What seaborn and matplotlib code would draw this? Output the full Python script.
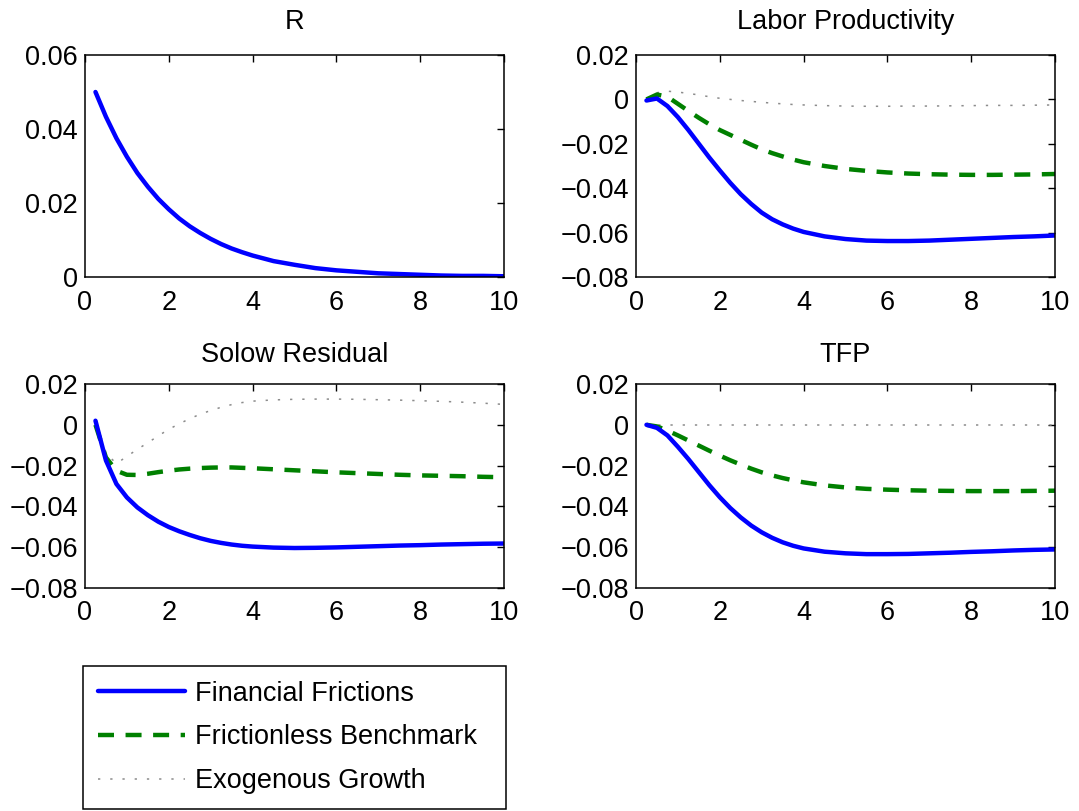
import numpy as np
import pandas as pd
import matplotlib
matplotlib.use("Agg")
import matplotlib.pyplot as plt
import seaborn as sns
from matplotlib.lines import Line2D

# ---------------- data ----------------
x = [0.25, 0.5, 0.75, 1.0, 1.25, 1.5, 1.75, 2.0, 2.25, 2.5, 2.75, 3.0, 3.25, 3.5, 3.75, 4.0,
     4.5, 5.0, 5.5, 6.0, 6.5, 7.0, 7.5, 8.0, 8.5, 9.0, 9.5, 10.0]

r_fin = [0.0500, 0.0433, 0.0375, 0.0325, 0.0281, 0.0244, 0.0211, 0.0183, 0.0158, 0.0137,
         0.0119, 0.0103, 0.0089, 0.0077, 0.0067, 0.0058, 0.0043, 0.0033, 0.0024, 0.0018,
         0.0014, 0.0010, 0.0008, 0.0006, 0.0004, 0.0003, 0.0003, 0.0002]

lp_fin = [-0.0005, 0.0004, -0.0030, -0.0080, -0.0138, -0.0200, -0.0262, -0.0320, -0.0376, -0.0427,
          -0.0471, -0.0510, -0.0540, -0.0563, -0.0582, -0.0597, -0.0617, -0.0629, -0.0636, -0.0638,
          -0.0638, -0.0636, -0.0632, -0.0628, -0.0624, -0.0620, -0.0617, -0.0613]
lp_fl = [0.0000, 0.0022, 0.0012, -0.0020, -0.0052, -0.0083, -0.0112, -0.0138, -0.0160, -0.0182,
         -0.0204, -0.0225, -0.0242, -0.0257, -0.0271, -0.0283, -0.0300, -0.0313, -0.0322, -0.0329,
         -0.0334, -0.0337, -0.0339, -0.0340, -0.0340, -0.0339, -0.0338, -0.0336]
lp_ex = [0.0000, 0.0030, 0.0037, 0.0033, 0.0027, 0.0020, 0.0012, 0.0005, 0.0000, -0.0005,
         -0.0009, -0.0013, -0.0017, -0.0020, -0.0023, -0.0025, -0.0028, -0.0030, -0.0031, -0.0031,
         -0.0030, -0.0030, -0.0029, -0.0028, -0.0027, -0.0027, -0.0026, -0.0025]

sr_fin = [0.0020, -0.0175, -0.0290, -0.0356, -0.0405, -0.0443, -0.0475, -0.0501, -0.0522, -0.0540,
          -0.0556, -0.0569, -0.0579, -0.0587, -0.0593, -0.0597, -0.0602, -0.0604, -0.0603, -0.0601,
          -0.0598, -0.0595, -0.0592, -0.0590, -0.0587, -0.0585, -0.0583, -0.0582]
sr_fl = [0.0000, -0.0160, -0.0225, -0.0245, -0.0246, -0.0240, -0.0232, -0.0225, -0.0219, -0.0215,
         -0.0212, -0.0210, -0.0209, -0.0209, -0.0211, -0.0213, -0.0218, -0.0223, -0.0228, -0.0233,
         -0.0237, -0.0241, -0.0245, -0.0248, -0.0250, -0.0252, -0.0255, -0.0257]
sr_ex = [-0.0010, -0.0140, -0.0190, -0.0155, -0.0120, -0.0088, -0.0054, -0.0022, 0.0005, 0.0030,
         0.0052, 0.0070, 0.0086, 0.0099, 0.0109, 0.0116, 0.0122, 0.0125, 0.0126, 0.0126,
         0.0125, 0.0123, 0.0121, 0.0118, 0.0115, 0.0111, 0.0106, 0.0100]

tfp_fin = [0.0000, -0.0015, -0.0052, -0.0108, -0.0168, -0.0232, -0.0296, -0.0355, -0.0408, -0.0454,
           -0.0494, -0.0527, -0.0554, -0.0576, -0.0593, -0.0606, -0.0622, -0.0630, -0.0634, -0.0634,
           -0.0633, -0.0630, -0.0627, -0.0623, -0.0620, -0.0616, -0.0613, -0.0611]
tfp_fl = [0.0000, -0.0008, -0.0028, -0.0052, -0.0077, -0.0102, -0.0127, -0.0151, -0.0174, -0.0195,
          -0.0215, -0.0233, -0.0248, -0.0261, -0.0272, -0.0282, -0.0297, -0.0307, -0.0314, -0.0318,
          -0.0321, -0.0323, -0.0324, -0.0325, -0.0325, -0.0325, -0.0324, -0.0323]
tfp_ex = [0.0] * 28

titles = ["R", "Labor Productivity", "Solow Residual", "TFP"]
series_names = ["Financial Frictions", "Frictionless Benchmark", "Exogenous Growth"]
xticks = [0, 2, 4, 6, 8, 10]
r_yticks = [0, 0.02, 0.04, 0.06]
r_yticklabels = ["0", "0.02", "0.04", "0.06"]
yticks = [-0.08, -0.06, -0.04, -0.02, 0, 0.02]
yticklabels = ["\u22120.08", "\u22120.06", "\u22120.04", "\u22120.02", "0", "0.02"]

# ---------------- style ----------------
sns.set_style("white")
plt.rcParams['font.family'] = ['Liberation Sans', 'DejaVu Sans']
plt.rcParams['text.color'] = 'black'
FS = 19.5

styles = {
    "Financial Frictions": dict(color=(0, 0, 1), lw=3.2, ls="-"),
    "Frictionless Benchmark": dict(color=(0, 0.5, 0), lw=3.2, ls=(0, (3.6, 2.6))),
    "Exogenous Growth": dict(color=(0.55, 0.55, 0.55), lw=1.1, ls=(0, (1.5, 6.5))),
}

W, H = 1079, 811
fig = plt.figure(figsize=(W / 100, H / 100), dpi=100)

def box(l, r, t, b):
    return [l / W, 1 - b / H, (r - l) / W, (b - t) / H]

positions = [box(85, 504, 55, 277), box(636, 1055, 55, 277),
             box(85, 504, 384, 588), box(636, 1055, 384, 588)]

panel_data = [
    {"Financial Frictions": r_fin},
    {"Financial Frictions": lp_fin, "Frictionless Benchmark": lp_fl, "Exogenous Growth": lp_ex},
    {"Financial Frictions": sr_fin, "Frictionless Benchmark": sr_fl, "Exogenous Growth": sr_ex},
    {"Financial Frictions": tfp_fin, "Frictionless Benchmark": tfp_fl, "Exogenous Growth": tfp_ex},
]

for i, (pos, title, pdata) in enumerate(zip(positions, titles, panel_data)):
    ax = fig.add_axes(pos)
    for name in ["Exogenous Growth", "Frictionless Benchmark", "Financial Frictions"]:
        if name not in pdata:
            continue
        st = styles[name]
        df = pd.DataFrame({"x": x, "y": pdata[name]})
        sns.lineplot(data=df, x="x", y="y", ax=ax, color=st["color"], linewidth=st["lw"],
                     linestyle=st["ls"], legend=False)
    ax.set_xlim(0, 10)
    ax.set_xticks(xticks)
    ax.set_xticklabels([str(t) for t in xticks])
    if i == 0:
        ax.set_ylim(0, 0.06)
        ax.set_yticks(r_yticks)
        ax.set_yticklabels(r_yticklabels)
    else:
        ax.set_ylim(-0.08, 0.02)
        ax.set_yticks(yticks)
        ax.set_yticklabels(yticklabels)
    ax.set_xlabel("")
    ax.set_ylabel("")
    ax.set_title(title, fontsize=FS, pad=19 if i < 2 else 16, color="black")
    ax.tick_params(axis="x", pad=9)
    ax.tick_params(axis="y", pad=5)
    ax.tick_params(direction="in", top=True, right=True, length=5, width=1,
                   labelsize=FS, colors="black")
    for sp in ax.spines.values():
        sp.set_visible(True)
        sp.set_color("black")
        sp.set_linewidth(1.1)

handles = [Line2D([], [], color=styles[n]["color"], lw=styles[n]["lw"], ls=styles[n]["ls"])
           for n in series_names]
lbox = box(83, 506, 668, 809)
leg = fig.legend(handles, series_names, loc="lower left",
                 bbox_to_anchor=(lbox[0], lbox[1], lbox[2], lbox[3]), mode="expand",
                 fontsize=FS, frameon=True, fancybox=False, edgecolor="black", framealpha=1,
                 handlelength=3.2, handletextpad=0.4, labelspacing=0.65, borderpad=0.55,
                 borderaxespad=0)
leg.get_frame().set_linewidth(1.1)
for t in leg.get_texts():
    t.set_color("black")

fig.savefig("out.png", dpi=100, facecolor="white")
